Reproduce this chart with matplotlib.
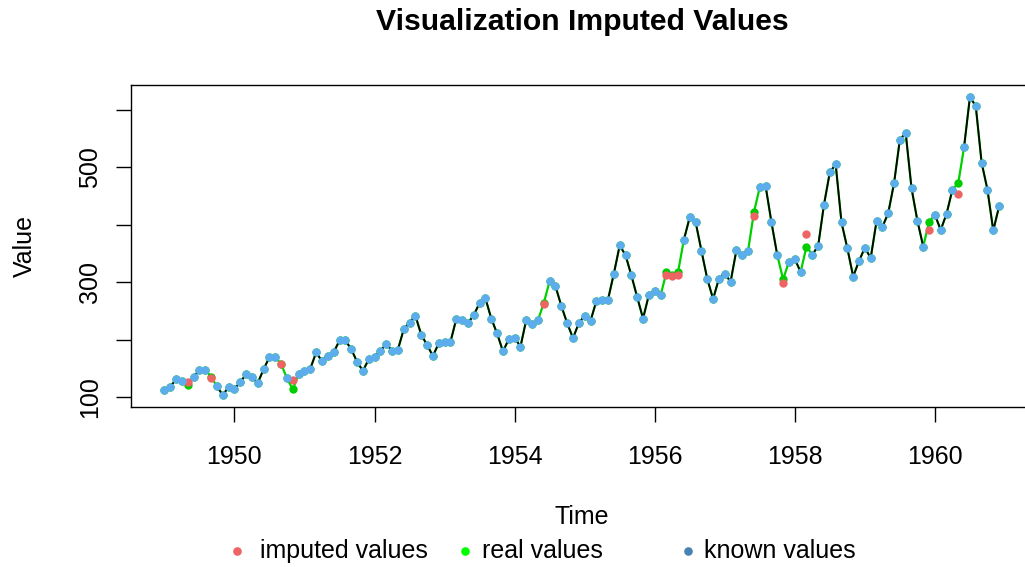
import numpy as np
import matplotlib.pyplot as plt
from matplotlib.lines import Line2D

plt.rcParams['font.family'] = ['Liberation Sans', 'DejaVu Sans']

# Monthly series, Jan 1949 - Dec 1960 (real values)
start_year = 1949
real_values = [
    112, 118, 132, 129, 121, 135, 148, 148, 136, 119, 104, 118,
    115, 126, 141, 135, 125, 149, 170, 170, 158, 133, 114, 140,
    145, 150, 178, 163, 172, 178, 199, 199, 184, 162, 146, 166,
    171, 180, 193, 181, 183, 218, 230, 242, 209, 191, 172, 194,
    196, 196, 236, 235, 229, 243, 264, 272, 237, 211, 180, 201,
    204, 188, 235, 227, 234, 264, 302, 293, 259, 229, 203, 229,
    242, 233, 267, 269, 270, 315, 364, 347, 312, 274, 237, 278,
    284, 277, 317, 313, 318, 374, 413, 405, 355, 306, 271, 306,
    315, 301, 356, 348, 355, 422, 465, 467, 404, 347, 305, 336,
    340, 318, 362, 348, 363, 435, 491, 505, 404, 359, 310, 337,
    360, 342, 406, 396, 420, 472, 548, 559, 463, 407, 362, 405,
    417, 391, 419, 461, 472, 535, 622, 606, 508, 461, 390, 432,
]

# missing months (year, month) and their imputed values
missing_months = [(1949, 5), (1949, 9), (1950, 9), (1950, 11), (1954, 6),
                  (1956, 3), (1956, 4), (1956, 5), (1957, 6), (1957, 11),
                  (1958, 3), (1959, 12), (1960, 5)]
imputed_values = [126, 134, 158, 131, 263, 312, 311, 312, 415, 299, 384, 391, 453]

truth = np.array(real_values, dtype=float)
t = start_year + np.arange(len(truth)) / 12.0
na_idx = [(y - start_year) * 12 + (m - 1) for y, m in missing_months]

with_na = truth.copy()
with_na[na_idx] = np.nan
imputed = np.full_like(truth, np.nan)
imputed[na_idx] = imputed_values

W, H = 1025, 567
fig = plt.figure(figsize=(W / 100, H / 100), dpi=100)
ax = fig.add_axes([131 / W, 1 - 407 / H, (1032.5 - 131) / W, (407 - 85) / H])

col_known = '#5CACEE'
col_imp = '#EE6363'
col_real_pt = '#00CD00'
col_real_line = '#00D000'
ms = 6.0

ax.plot(t, truth, color=col_real_line, lw=1.6, zorder=2)
ax.plot(t, truth, 'o', color=col_real_pt, ms=ms, mew=0, zorder=3)
ax.plot(t, imputed, 'o', color=col_imp, ms=ms, mew=0, zorder=4)
ax.plot(t, with_na, color='black', lw=1.3, zorder=5)
ax.plot(t, with_na, 'o', color=col_known, ms=ms, mew=0, zorder=6)

lo, hi = t[0], t[-1]
pad = (hi - lo) * 0.04
ax.set_xlim(lo - pad, hi + pad)
ylo, yhi = 104, 622
ypad = (yhi - ylo) * 0.04
ax.set_ylim(ylo - ypad, yhi + ypad)

ax.set_xticks([1950, 1952, 1954, 1956, 1958, 1960])
ax.set_yticks([100, 200, 300, 400, 500, 600])
ax.set_yticklabels(['100', '', '300', '', '500', ''], rotation=90, va='center')
ax.tick_params(axis='both', direction='out', length=11, width=1.0, labelsize=18, color='black')
ax.tick_params(axis='x', pad=16)
ax.tick_params(axis='y', pad=10)
for s in ax.spines.values():
    s.set_linewidth(1.0)

fig.text(582 / W, 1 - 22 / H, 'Visualization Imputed Values', ha='center', va='center',
         fontsize=21.7, fontweight='bold')
fig.text(582 / W, 1 - 517 / H, 'Time', ha='center', va='center', fontsize=18)
fig.text(25 / W, 1 - 246 / H, 'Value', ha='center', va='center', fontsize=18, rotation=90)

# legend, laid out horizontally below the x label
legend_items = [('imputed values', col_imp, 237, 260),
                ('real values', '#00FF00', 465, 482),
                ('known values', '#4682B4', 688, 704)]
ly = 1 - 551 / H
for label, c, xd, xt in legend_items:
    fig.add_artist(Line2D([xd / W], [ly], marker='o', color=c, ms=6.2, mew=0, ls='none'))
    fig.text(xt / W, ly, label, ha='left', va='center', fontsize=18)

fig.savefig('out.png', dpi=100)
